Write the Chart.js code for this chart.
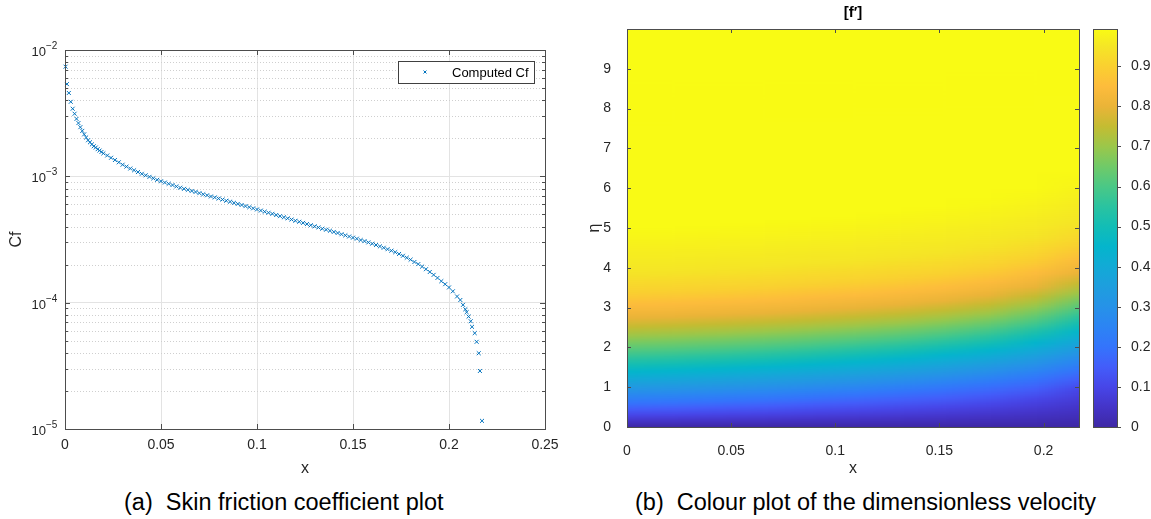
<!DOCTYPE html>
<html>
<head>
<meta charset="utf-8">
<script src="https://cdn.jsdelivr.net/npm/chart.js@4.4.0/dist/chart.umd.min.js"></script>
<style>
  html, body { margin: 0; padding: 0; background: #fff; }
  body { width: 1151px; height: 519px; position: relative; overflow: hidden; font-family: "Liberation Sans", Arial, sans-serif; }
  .caixa { position: absolute; top: 0; }
  .legenda { position: absolute; top: 491px; font-size: 23.5px; line-height: 23.5px; color: #000; white-space: pre; }
</style>
</head>
<body>
<div class="caixa" style="left:0"><canvas id="graficoCf" width="570" height="480"></canvas></div>
<div class="caixa" style="left:580px"><canvas id="graficoMapa" width="510" height="480"></canvas></div>
<div class="caixa" style="left:1085px"><canvas id="graficoBarra" width="66" height="480"></canvas></div>
<div class="legenda" style="left:124px">(a)  Skin friction coefficient plot</div>
<div class="legenda" style="left:635px">(b)  Colour plot of the dimensionless velocity</div>
<script>
// ---- (a) coeficiente de atrito ----
const xCf = [
  0.0003, 0.001, 0.002, 0.003, 0.004, 0.005, 0.006, 0.007, 0.008, 0.009,
  0.010, 0.011, 0.012, 0.013, 0.014, 0.015, 0.016, 0.017, 0.018, 0.019,
  0.020, 0.022, 0.024, 0.026, 0.028, 0.030, 0.032, 0.034, 0.036, 0.038,
  0.040, 0.042, 0.044, 0.046, 0.048, 0.050, 0.052, 0.054, 0.056, 0.058,
  0.060, 0.062, 0.064, 0.066, 0.068, 0.070, 0.072, 0.074, 0.076, 0.078,
  0.080, 0.082, 0.084, 0.086, 0.088, 0.090, 0.092, 0.094, 0.096, 0.098,
  0.100, 0.102, 0.104, 0.106, 0.108, 0.110, 0.112, 0.114, 0.116, 0.118,
  0.120, 0.122, 0.124, 0.126, 0.128, 0.130, 0.132, 0.134, 0.136, 0.138,
  0.140, 0.142, 0.144, 0.146, 0.148, 0.150, 0.152, 0.154, 0.156, 0.158,
  0.160, 0.162, 0.164, 0.166, 0.168, 0.170, 0.172, 0.174, 0.176, 0.178,
  0.180, 0.182, 0.184, 0.186, 0.188, 0.190, 0.192, 0.194, 0.196, 0.198,
  0.200, 0.2020, 0.2042, 0.2059, 0.2073, 0.2085, 0.2092, 0.2102, 0.2113, 0.2120,
  0.2134, 0.2144, 0.2155, 0.2161, 0.2172
];
const cfValores = [
  0.00738, 0.00537, 0.00457, 0.00389, 0.00343, 0.00313, 0.00285, 0.00264, 0.00245, 0.00229,
  0.00215, 0.00203, 0.00193, 0.00186, 0.00179, 0.00173, 0.00169, 0.00164, 0.00160, 0.00156,
  0.00152, 0.001462, 0.001403, 0.001346, 0.001291, 0.001236, 0.001194, 0.001153, 0.001117, 0.001081,
  0.001047, 0.001019, 0.000991, 0.000964, 0.000938, 0.000914, 0.000893, 0.000873, 0.000853, 0.000832,
  0.000813, 0.000796, 0.000782, 0.000766, 0.000752, 0.000736, 0.000721, 0.000708, 0.000693, 0.000681,
  0.000667, 0.000655, 0.000641, 0.000630, 0.000617, 0.000605, 0.000593, 0.000581, 0.000570, 0.000558,
  0.000547, 0.000536, 0.000525, 0.000515, 0.000505, 0.000494, 0.000484, 0.000474, 0.000465, 0.000455,
  0.000445, 0.000437, 0.000428, 0.000419, 0.000410, 0.000402, 0.000394, 0.000385, 0.000378, 0.000371,
  0.000363, 0.000356, 0.000348, 0.000341, 0.000334, 0.000327, 0.000321, 0.000313, 0.000307, 0.000300,
  0.000293, 0.000286, 0.000279, 0.000272, 0.000265, 0.000258, 0.000251, 0.000243, 0.000235, 0.000227,
  0.000219, 0.000210, 0.000202, 0.000193, 0.000184, 0.000175, 0.000166, 0.000157, 0.000148, 0.000140,
  0.000132, 0.000123, 0.000112, 0.000105, 0.0000961, 0.0000887, 0.0000841, 0.0000776, 0.0000713, 0.0000644,
  0.0000574, 0.0000490, 0.0000398, 0.0000288, 0.0000116
];
const xTicksCf = [0, 0.05, 0.1, 0.15, 0.2, 0.25];
const decadasCf = [1e-5, 1e-4, 1e-3, 1e-2];

// ---- (b) mapa de f' : altura eta onde f' atinge cada nivel, por coluna x ----
const xColunas = [0, 0.0217, 0.0434, 0.0651, 0.0868, 0.1085, 0.1302, 0.1519, 0.1736, 0.1953, 0.217];
const niveisF = [0.1, 0.2, 0.3, 0.4, 0.5, 0.6, 0.7, 0.8, 0.9, 0.95, 0.99];
const etaF01  = [0.30, 0.31, 0.33, 0.35, 0.38, 0.41, 0.45, 0.50, 0.57, 0.70, 0.95];
const etaF02  = [0.60, 0.62, 0.65, 0.69, 0.74, 0.80, 0.87, 0.95, 1.06, 1.20, 1.42];
const etaF03  = [0.91, 0.93, 0.97, 1.01, 1.07, 1.13, 1.21, 1.30, 1.42, 1.58, 1.82];
const etaF04  = [1.22, 1.25, 1.29, 1.34, 1.40, 1.46, 1.54, 1.64, 1.76, 1.94, 2.20];
const etaF05  = [1.55, 1.58, 1.62, 1.67, 1.73, 1.80, 1.88, 1.98, 2.10, 2.30, 2.58];
const etaF06  = [1.89, 1.92, 1.96, 2.01, 2.07, 2.14, 2.22, 2.32, 2.45, 2.65, 2.95];
const etaF07  = [2.28, 2.31, 2.35, 2.40, 2.46, 2.53, 2.61, 2.71, 2.84, 3.05, 3.35];
const etaF08  = [2.74, 2.77, 2.81, 2.86, 2.92, 2.99, 3.07, 3.17, 3.31, 3.52, 3.85];
const etaF09  = [3.38, 3.41, 3.45, 3.50, 3.57, 3.64, 3.73, 3.84, 3.99, 4.22, 4.55];
const etaF095 = [3.92, 3.95, 4.00, 4.06, 4.13, 4.21, 4.31, 4.43, 4.59, 4.83, 5.18];
const etaF099 = [5.00, 5.03, 5.08, 5.15, 5.23, 5.32, 5.43, 5.57, 5.75, 6.00, 6.40];
const fTopo = 0.993;   // valor maximo (topo da barra de cores)
const etaMax = 10;
const xTicksMapa = [0, 0.05, 0.1, 0.15, 0.2];
const etaTicks = [0, 1, 2, 3, 4, 5, 6, 7, 8, 9];
const barraTicks = [0, 0.1, 0.2, 0.3, 0.4, 0.5, 0.6, 0.7, 0.8, 0.9];

// paleta parula (valor, r, g, b)
const parula = [
  [0.00, 62, 40, 165], [0.05, 68, 52, 200], [0.10, 71, 70, 232], [0.15, 67, 93, 250],
  [0.20, 52, 116, 252], [0.25, 44, 132, 244], [0.30, 38, 146, 232], [0.35, 30, 158, 222],
  [0.40, 18, 170, 214], [0.45, 4, 181, 204], [0.50, 18, 189, 182], [0.55, 42, 195, 160],
  [0.60, 74, 200, 134], [0.65, 112, 202, 104], [0.70, 155, 199, 74], [0.75, 196, 188, 50],
  [0.80, 234, 180, 56], [0.85, 253, 188, 60], [0.90, 250, 208, 48], [0.95, 245, 230, 38],
  [0.993, 249, 251, 20]
];

function corParula(v) {
  if (v <= parula[0][0]) return `rgb(${parula[0][1]},${parula[0][2]},${parula[0][3]})`;
  for (let i = 1; i < parula.length; i++) {
    if (v <= parula[i][0]) {
      const a = parula[i - 1], b = parula[i];
      const t = (v - a[0]) / (b[0] - a[0]);
      const c = [1, 2, 3].map(k => Math.round(a[k] + (b[k] - a[k]) * t));
      return `rgb(${c[0]},${c[1]},${c[2]})`;
    }
  }
  const u = parula[parula.length - 1];
  return `rgb(${u[1]},${u[2]},${u[3]})`;
}

const FONTE = '"Liberation Sans", Arial, sans-serif';
const COR_TEXTO = '#262626';
const COR_EIXO = '#4d4d4d';
Chart.defaults.font.family = FONTE;
Chart.defaults.color = COR_TEXTO;

function linha(ctx, x1, y1, x2, y2) {
  ctx.beginPath(); ctx.moveTo(x1, y1); ctx.lineTo(x2, y2); ctx.stroke();
}

// grade menor pontilhada, caixa, marcas internas, rotulos 10^n e legenda
const molduraCf = {
  id: 'molduraCf',
  beforeDatasetsDraw(chart) {
    const { ctx, chartArea: a, scales: { y } } = chart;
    ctx.save();
    ctx.strokeStyle = '#cfcfcf';
    ctx.lineWidth = 1;
    ctx.setLineDash([1, 2]);
    for (let d = 0; d < decadasCf.length - 1; d++) {
      for (let m = 2; m <= 9; m++) {
        const py = Math.round(y.getPixelForValue(decadasCf[d] * m)) + 0.5;
        linha(ctx, a.left, py, a.right, py);
      }
    }
    ctx.restore();
  },
  afterDraw(chart) {
    const { ctx, chartArea: a, scales: { x, y } } = chart;
    ctx.save();
    ctx.strokeStyle = COR_EIXO;
    ctx.lineWidth = 1;
    ctx.strokeRect(Math.round(a.left) + 0.5, Math.round(a.top) + 0.5,
      Math.round(a.right - a.left), Math.round(a.bottom - a.top));
    // marcas internas
    xTicksCf.forEach(v => {
      const px = Math.round(x.getPixelForValue(v)) + 0.5;
      linha(ctx, px, a.bottom, px, a.bottom - 5);
      linha(ctx, px, a.top, px, a.top + 5);
    });
    decadasCf.forEach((v, d) => {
      const py = Math.round(y.getPixelForValue(v)) + 0.5;
      linha(ctx, a.left, py, a.left + 5, py);
      linha(ctx, a.right, py, a.right - 5, py);
      if (d < decadasCf.length - 1) {
        for (let m = 2; m <= 9; m++) {
          const pm = Math.round(y.getPixelForValue(v * m)) + 0.5;
          linha(ctx, a.left, pm, a.left + 3, pm);
          linha(ctx, a.right, pm, a.right - 3, pm);
        }
      }
      // rotulo 10^n
      const exp = Math.round(Math.log10(v));
      ctx.fillStyle = COR_TEXTO;
      ctx.textBaseline = 'middle';
      ctx.font = '13px ' + FONTE;
      ctx.textAlign = 'right';
      ctx.fillText('10', a.left - 19, py + 2);
      ctx.font = '10px ' + FONTE;
      ctx.textAlign = 'left';
      ctx.fillText('\u2212' + Math.abs(exp), a.left - 19, py - 4);
    });
    // legenda
    const lx = 398.5, ly = 61.5, lw = 136, lh = 22;
    ctx.fillStyle = '#fff';
    ctx.fillRect(lx, ly, lw, lh);
    ctx.strokeStyle = '#404040';
    ctx.strokeRect(lx, ly, lw, lh);
    ctx.strokeStyle = '#0072BD';
    ctx.lineWidth = 1;
    linha(ctx, 423.5, 70.5, 426.5, 73.5);
    linha(ctx, 423.5, 73.5, 426.5, 70.5);
    ctx.fillStyle = '#000';
    ctx.font = '13px ' + FONTE;
    ctx.textAlign = 'left';
    ctx.textBaseline = 'middle';
    ctx.fillText(chart.data.datasets[0].label, 452, 73);
    ctx.restore();
  }
};

new Chart(document.getElementById('graficoCf'), {
  type: 'scatter',
  data: {
    datasets: [{
      label: 'Computed Cf',
      data: xCf.map((v, i) => ({ x: v, y: cfValores[i] })),
      pointStyle: 'crossRot',
      pointRadius: 2.8,
      pointBorderWidth: 1,
      pointBorderColor: '#0072BD',
      pointBackgroundColor: '#0072BD',
      clip: false
    }]
  },
  options: {
    responsive: false,
    animation: false,
    events: [],
    layout: { padding: { top: 50, right: 25, left: 0, bottom: 0 } },
    plugins: { legend: { display: false }, tooltip: { enabled: false } },
    scales: {
      x: {
        type: 'linear', min: 0, max: 0.25,
        afterBuildTicks: s => { s.ticks = xTicksCf.map(v => ({ value: v })); },
        afterFit: s => { s.height = 51; },
        grid: { color: '#e3e3e3', drawTicks: false },
        border: { display: false },
        ticks: { padding: 8, color: COR_TEXTO, font: { size: 14 }, callback: v => String(v) },
        title: { display: true, text: 'x', color: COR_TEXTO, font: { size: 16 }, padding: { top: 0, bottom: 2 } }
      },
      y: {
        type: 'logarithmic', min: 1e-5, max: 1e-2,
        afterBuildTicks: s => { s.ticks = decadasCf.map(v => ({ value: v, major: true })); },
        afterFit: s => { s.width = 65; },
        grid: { color: '#e3e3e3', drawTicks: false },
        border: { display: false },
        ticks: { display: false },
        title: { display: true, text: 'Cf', color: COR_TEXTO, font: { size: 16 }, padding: { top: 7, bottom: 0 } }
      }
    }
  },
  plugins: [molduraCf]
});

// ---- mapa de cores ----
const mapaCalor = {
  id: 'mapaCalor',
  beforeDatasetsDraw(chart) {
    const { ctx, chartArea: a, scales: { x, y } } = chart;
    const niveis = [etaF01, etaF02, etaF03, etaF04, etaF05, etaF06, etaF07, etaF08, etaF09, etaF095, etaF099];
    const n = xColunas.length;
    const alt = 400;
    const off = document.createElement('canvas');
    off.width = n; off.height = alt;
    const oc = off.getContext('2d');
    for (let c = 0; c < n; c++) {
      const etas = [0, ...niveis.map(arr => arr[c]), etaMax];
      const vals = [0, ...niveisF, fTopo];
      const g = oc.createLinearGradient(0, alt, 0, 0);
      for (let k = 0; k < etas.length - 1; k++) {
        for (let s = 0; s < 4; s++) {
          const f = s / 4;
          const eta = etas[k] + (etas[k + 1] - etas[k]) * f;
          const v = vals[k] + (vals[k + 1] - vals[k]) * f;
          g.addColorStop(eta / etaMax, corParula(v));
        }
      }
      g.addColorStop(1, corParula(fTopo));
      oc.fillStyle = g;
      oc.fillRect(c, 0, 1, alt);
    }
    const x0 = x.getPixelForValue(xColunas[0]);
    const x1 = x.getPixelForValue(xColunas[n - 1]);
    const dx = (x1 - x0) / (n - 1);
    const yTopo = y.getPixelForValue(etaMax), yBase = y.getPixelForValue(0);
    ctx.save();
    ctx.beginPath();
    ctx.rect(a.left, a.top, a.right - a.left, a.bottom - a.top);
    ctx.clip();
    ctx.imageSmoothingEnabled = true;
    ctx.drawImage(off, x0 - dx / 2, yTopo, dx * n, yBase - yTopo);
    ctx.restore();
  },
  afterDraw(chart) {
    const { ctx, chartArea: a, scales: { x, y } } = chart;
    ctx.save();
    ctx.strokeStyle = COR_EIXO;
    ctx.lineWidth = 1;
    ctx.strokeRect(Math.round(a.left) + 0.5, Math.round(a.top) + 0.5,
      Math.round(a.right - a.left), Math.round(a.bottom - a.top));
    xTicksMapa.forEach(v => {
      const px = Math.round(x.getPixelForValue(v)) + 0.5;
      linha(ctx, px, a.bottom, px, a.bottom - 4);
      linha(ctx, px, a.top, px, a.top + 4);
    });
    etaTicks.forEach(v => {
      const py = Math.round(y.getPixelForValue(v)) + 0.5;
      linha(ctx, a.left, py, a.left + 4, py);
      linha(ctx, a.right, py, a.right - 4, py);
    });
    ctx.restore();
  }
};

new Chart(document.getElementById('graficoMapa'), {
  type: 'scatter',
  data: { datasets: [] },
  options: {
    responsive: false,
    animation: false,
    events: [],
    layout: { padding: { top: 0, right: 11, left: 0, bottom: 0 } },
    plugins: {
      legend: { display: false },
      tooltip: { enabled: false },
      title: {
        display: true, text: '[f\u2032]', fullSize: false, color: '#000',
        font: { size: 15, weight: 'bold' }, padding: { top: 4, bottom: 7 }
      }
    },
    scales: {
      x: {
        type: 'linear', min: 0, max: xColunas[xColunas.length - 1],
        afterBuildTicks: s => { s.ticks = xTicksMapa.map(v => ({ value: v })); },
        afterFit: s => { s.height = 53; },
        grid: { display: false },
        border: { display: false },
        ticks: { padding: 8, color: COR_TEXTO, font: { size: 14 }, callback: v => String(v) },
        title: { display: true, text: 'x', color: COR_TEXTO, font: { size: 16 }, padding: { top: 0, bottom: 2 } }
      },
      y: {
        type: 'linear', min: 0, max: etaMax,
        afterBuildTicks: s => { s.ticks = etaTicks.map(v => ({ value: v })); },
        afterFit: s => { s.width = 47; },
        grid: { display: false },
        border: { display: false },
        ticks: { padding: 8, color: COR_TEXTO, font: { size: 14 }, callback: v => String(v) },
        title: { display: true, text: '\u03B7', color: COR_TEXTO, font: { size: 16 }, padding: { top: 5, bottom: 0 } }
      }
    }
  },
  plugins: [mapaCalor]
});

// ---- barra de cores ----
const barraCores = {
  id: 'barraCores',
  beforeDatasetsDraw(chart) {
    const { ctx, chartArea: a, scales: { y } } = chart;
    const yTopo = y.getPixelForValue(fTopo), yBase = y.getPixelForValue(0);
    const g = ctx.createLinearGradient(0, yBase, 0, yTopo);
    parula.forEach(p => g.addColorStop(Math.min(1, p[0] / fTopo), corParula(p[0])));
    ctx.save();
    ctx.fillStyle = g;
    ctx.fillRect(a.left, a.top, a.right - a.left, a.bottom - a.top);
    ctx.strokeStyle = COR_EIXO;
    ctx.lineWidth = 1;
    ctx.strokeRect(Math.round(a.left) + 0.5, Math.round(a.top) + 0.5,
      Math.round(a.right - a.left), Math.round(a.bottom - a.top));
    barraTicks.forEach(v => {
      const py = Math.round(y.getPixelForValue(v)) + 0.5;
      linha(ctx, a.right, py, a.right + 4, py);
    });
    ctx.restore();
  }
};

new Chart(document.getElementById('graficoBarra'), {
  type: 'scatter',
  data: { datasets: [] },
  options: {
    responsive: false,
    animation: false,
    events: [],
    layout: { padding: { top: 29, right: 0, left: 8, bottom: 53 } },
    plugins: { legend: { display: false }, tooltip: { enabled: false } },
    scales: {
      x: { display: false, min: 0, max: 1 },
      y: {
        type: 'linear', position: 'right', min: 0, max: fTopo,
        afterBuildTicks: s => { s.ticks = barraTicks.map(v => ({ value: v })); },
        afterFit: s => { s.width = 34; },
        grid: { display: false },
        border: { display: false },
        ticks: { padding: 6, color: COR_TEXTO, font: { size: 14 }, callback: v => String(v) }
      }
    }
  },
  plugins: [barraCores]
});
</script>
</body>
</html>
